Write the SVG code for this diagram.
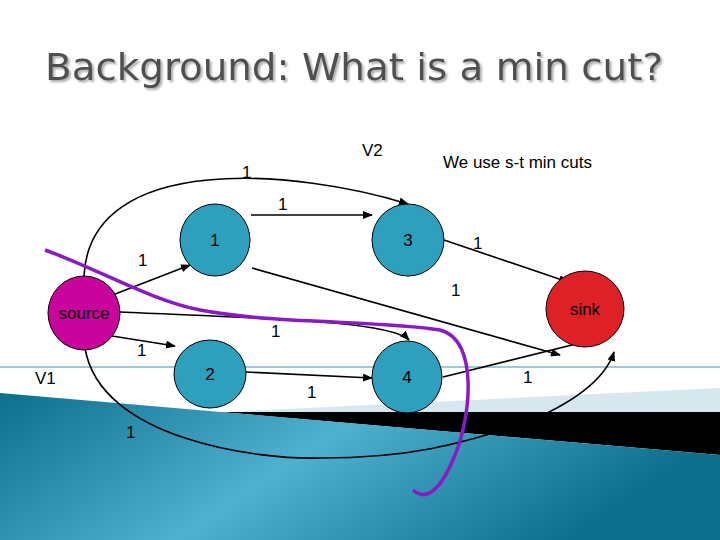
<svg xmlns="http://www.w3.org/2000/svg" width="720" height="540" viewBox="0 0 720 540">
<defs>
<linearGradient id="bg" x1="0" y1="0" x2="1" y2="0.3">
<stop offset="0" stop-color="#0d6f8c"/><stop offset="0.5" stop-color="#4fb0cf"/><stop offset="1" stop-color="#0d6f8c"/>
</linearGradient>
<filter id="sh" x="-5%" y="-20%" width="110%" height="140%"><feDropShadow dx="2" dy="2" stdDeviation="0.8" flood-color="#aaa"/></filter>
<marker id="ar" markerWidth="10" markerHeight="8" refX="9" refY="4" orient="auto" markerUnits="userSpaceOnUse">
<path d="M0,0 L10,4 L0,8 z" fill="#000"/>
</marker>
<style>
.e{fill:none;stroke:#000;stroke-width:1.6;marker-end:url(#ar)}
.t{font-family:"Liberation Sans",Arial,sans-serif;font-size:17px;fill:#000}
.n{stroke:#000;stroke-width:1}
</style>
</defs>
<rect width="720" height="540" fill="#fff"/>
<line x1="0" y1="367" x2="720" y2="367" stroke="#7fb6c8" stroke-width="1.5"/>
<polygon points="225,412 720,388 720,412" fill="#d6e7ee"/>
<polygon points="220,412 720,412 720,455" fill="#000"/>
<polygon points="0,393 720,455 720,540 0,540" fill="url(#bg)"/>
<text x="45" y="80" font-family="'DejaVu Sans Condensed','DejaVu Sans',sans-serif" font-size="38" fill="#505050" textLength="618" lengthAdjust="spacingAndGlyphs" filter="url(#sh)">Background: What is a min cut?</text>
<g id="connectors">
<path class="e" d="M84,276 C90,150 300,170 408,204"/>
<path class="e" d="M251,215 L372,215"/>
<path class="e" d="M110,296 L190,265"/>
<path class="e" d="M252,268 L560,355"/>
<path class="e" d="M444,240 L568,282"/>
<path class="e" d="M120,312 C250,318 390,320 409,340"/>
<path class="e" d="M112,336 L175,346"/>
<path class="e" d="M246,372 L372,378"/>
<path class="e" d="M443,377 L588,341"/>
<path class="e" d="M85,348 C100,440 260,460 321,458 C420,458 470,440 520,425 C570,405 605,380 614,352"/>
</g>
<path d="M45,250 C100,270 150,300 200,310 C280,325 380,320 440,330 C480,340 470,420 455,455 C445,480 430,505 413,490" fill="none" stroke="#8a1bc4" stroke-width="3.5"/>
<g id="source"><ellipse class="n" cx="84" cy="313" rx="36" ry="37" fill="#c8049c"/><text class="t" x="84" y="319" text-anchor="middle">source</text></g>
<g id="n1"><ellipse class="n" cx="215" cy="240" rx="35" ry="36" fill="#2e9fbd"/><text class="t" x="215" y="246" text-anchor="middle">1</text></g>
<g id="n3"><ellipse class="n" cx="408" cy="240" rx="36" ry="36" fill="#2e9fbd"/><text class="t" x="408" y="246" text-anchor="middle">3</text></g>
<g id="n2"><ellipse class="n" cx="210" cy="374" rx="36" ry="34" fill="#2e9fbd"/><text class="t" x="210" y="380" text-anchor="middle">2</text></g>
<g id="n4"><ellipse class="n" cx="407" cy="377" rx="35" ry="36" fill="#2e9fbd"/><text class="t" x="407" y="383" text-anchor="middle">4</text></g>
<g id="sink"><ellipse class="n" cx="585" cy="309" rx="39" ry="38" fill="#de2027"/><text class="t" x="585" y="315" text-anchor="middle">sink</text></g>
<g id="labels">
<text class="t" x="362" y="156">V2</text>
<text class="t" x="443" y="168">We use s-t min cuts</text>
<text class="t" x="35" y="384">V1</text>
<text class="t" x="242" y="178">1</text>
<text class="t" x="278" y="210">1</text>
<text class="t" x="138" y="266">1</text>
<text class="t" x="451" y="296">1</text>
<text class="t" x="473" y="249">1</text>
<text class="t" x="271" y="337">1</text>
<text class="t" x="137" y="356">1</text>
<text class="t" x="307" y="398">1</text>
<text class="t" x="523" y="383">1</text>
<text class="t" x="126" y="438">1</text>
</g>
</svg>
